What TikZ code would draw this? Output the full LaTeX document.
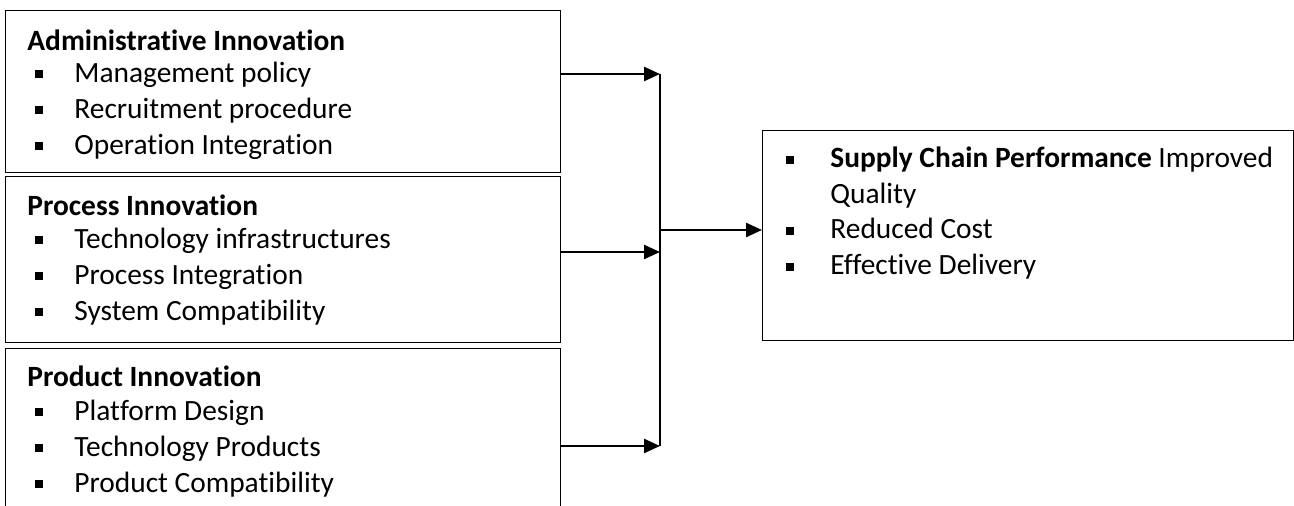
\documentclass[tikz,border=0pt]{standalone}
\usepackage{fontspec}
\setmainfont{Carlito}[RawFeature={-liga}]
\usetikzlibrary{arrows.meta}
\newcommand\sqbul[2]{\fill (#1-3.7,#2-3.7) rectangle (#1+3.7,#2+3.7);}
\begin{document}
\begin{tikzpicture}[x=0.5pt,y=-0.5pt,
  box/.style={draw=black, line width=0.65pt, inner sep=0pt, anchor=north west},
  txt/.style={anchor=base west, inner sep=0pt, font=\fontsize{14.7pt}{17.9pt}\selectfont},
  ttl/.style={anchor=base west, inner sep=0pt, font=\fontsize{14.7pt}{17.9pt}\selectfont\bfseries},
  arr/.style={line width=1.2pt, -{Triangle[length=8pt,width=7pt]}},
  vline/.style={line width=0.65pt}]
\useasboundingbox (0,0) rectangle (1294,506);
\clip (0,0) rectangle (1294,506);
% boxes
\node[box, minimum width=277.5pt, minimum height=81pt] (b1) at (5,10) {};
\node[box, minimum width=277.5pt, minimum height=83pt] (b2) at (5,176) {};
\node[box, minimum width=277.5pt, minimum height=86pt] (b3) at (5,348) {};
\node[box, minimum width=265.5pt, minimum height=105pt] (r) at (762,130) {};
% box 1 text
\node[ttl] (t1) at (27,51) {Administrative Innovation};
\node[txt] (i11) at (74,83) {Management policy};
\node[txt] (i12) at (74,119) {Recruitment procedure};
\node[txt] (i13) at (74,155) {Operation Integration};
\sqbul{39}{74}\sqbul{39}{110}\sqbul{39}{146}
% box 2 text
\node[ttl] (t2) at (27,216) {Process Innovation};
\node[txt] (i21) at (74,249) {Technology infrastructures};
\node[txt] (i22) at (74,285) {Process Integration};
\node[txt] (i23) at (74,321) {System Compatibility};
\sqbul{39}{240}\sqbul{39}{276}\sqbul{39}{312}
% box 3 text
\node[ttl] (t3) at (27,387) {Product Innovation};
\node[txt] (i31) at (74,421) {Platform Design};
\node[txt] (i32) at (74,457) {Technology Products};
\node[txt] (i33) at (74,493) {Product Compatibility};
\sqbul{39}{412}\sqbul{39}{448}\sqbul{39}{484}
% right box text
\node[txt] (o1) at (830,168) {\textbf{Supply Chain Performance} Improved};
\node[txt] (o2) at (830,204) {Quality};
\node[txt] (o3) at (830,239) {Reduced Cost};
\node[txt] (o4) at (830,275) {Effective Delivery};
\sqbul{790}{160}\sqbul{790}{231}\sqbul{790}{267}
% connectors
\coordinate (j1) at (660,74);
\coordinate (j2) at (660,252);
\coordinate (j3) at (660,446);
\coordinate (jm) at (660,230);
\draw[arr] (b1.east |- j1) -- (j1);
\draw[arr] (b2.east |- j2) -- (j2);
\draw[arr] (b3.east |- j3) -- (j3);
\draw[vline] (j1) -- (j3);
\draw[arr] (jm) -- (r.west |- jm);
\end{tikzpicture}
\end{document}
